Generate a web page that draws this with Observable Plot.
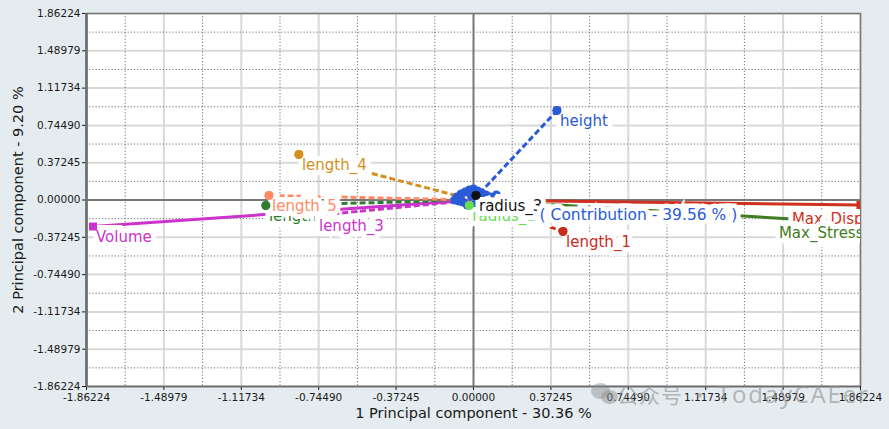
<!DOCTYPE html>
<html><head><meta charset="utf-8">
<script src="https://cdn.jsdelivr.net/npm/d3@7"></script>
<script src="https://cdn.jsdelivr.net/npm/@observablehq/plot@0.6"></script>
<style>
html,body{margin:0;padding:0;background:#e5ecef;}
#wrap{position:relative;width:889px;height:429px;overflow:hidden;}
.wm{position:absolute;color:#8f8f8f;opacity:.6;white-space:nowrap;}
#wm1{left:617px;top:379px;font:21px "Noto Sans CJK SC",sans-serif;letter-spacing:1px;}
#wm2{left:717px;top:377px;font:400 24px "Open Sans","Noto Sans",sans-serif;letter-spacing:1.8px;}
.ic{position:absolute;border-radius:50%;background:#8a8a8a;opacity:.45;}
</style></head><body><div id="wrap"><div id="chart"></div>
<div class="ic" style="left:591px;top:383px;width:19px;height:16px;"></div>
<div class="ic" style="left:601px;top:390px;width:17px;height:14px;"></div>
<div class="wm" id="wm1">公众号 ·</div><div class="wm" id="wm2">TodayCAEer</div></div>
<script>
// ---- data ----
const variables = ["height","length_4","length_2","length_5","Volume","length_3","length_1","Max_Disp","Max_Stress","radius_1","radius_3"];
const roles     = ["input","input","input","input","output","input","input","output","output","input","input"];
const pc1       = [0.402,-0.840,-0.999,-0.984,-1.831,-0.758,0.431,1.862,1.576,-0.020,0.012];
const pc2       = [0.894,0.454,-0.055,0.045,-0.265,-0.155,-0.315,-0.050,-0.195,-0.055,0.045];
const clusterPc1 = [-0.08,-0.06,-0.04,-0.02,0.00,0.02,0.04,0.06,0.08,0.10,-0.05,-0.03,0.01,0.03,0.05,-0.07,0.07,-0.01,-0.09,0.11];
const clusterPc2 = [0.03,0.06,0.08,0.10,0.11,0.09,0.07,0.05,0.03,0.02,-0.02,-0.05,-0.04,0.00,0.00,-0.01,0.01,0.04,0.00,0.05];
const axisTicks = [-1.86224,-1.48979,-1.11734,-0.74490,-0.37245,0,0.37245,0.74490,1.11734,1.48979,1.86224];
const xTitle = "1 Principal component - 30.36 %";
const yTitle = "2 Principal component - 9.20 %";
const noteText = ["( Contribution - 39.56 % )"];
const notePc1 = [0.318];
const notePc2 = [-0.150];
const palette = ["#2a5bd7","#d4901e","#2e7d32","#ff8a65","#cc33cc","#cc33cc","#cc2a1e","#d03020","#3f7d22","#66dd55","#111111"];

// ---- build ----
const vars = variables.map((name,i)=>({name, role:roles[i], x:pc1[i], y:pc2[i]}));
const cluster = clusterPc1.map((x,i)=>({x, y:clusterPc2[i]}));
const notes = noteText.map((t,i)=>({t, x:notePc1[i], y:notePc2[i]}));
const minor = d3.pairs(axisTicks).map(([a,b])=>(a+b)/2);
const major = axisTicks.filter(v=>v!==0);
const fmt = v => v.toFixed(5);
const font = "DejaVu Sans";
const inputs = vars.filter(d=>d.role==="input");
const outputs = vars.filter(d=>d.role==="output");
// labels of points near the right edge are pushed inside the frame
const labelNormal = vars.filter(d=>d.x < 1.2);
const labelEdge = vars.filter(d=>d.x >= 1.2);
// markers stay visible above labels, except the one the reference shows hidden by its own label
const topMarkers = inputs.filter(d=>d.name!=="length_3");
const halo = {stroke:"white", strokeWidth:10, strokeLinejoin:"miter", paintOrder:"stroke"};

const chart = Plot.plot({
  width: 889, height: 429,
  marginLeft: 86, marginRight: 29, marginTop: 13, marginBottom: 43,
  style: {background:"transparent", fontFamily: font, color:"#1a1a1a", fontSize:"10.5px"},
  x: {domain:[-1.86224,1.86224]},
  y: {domain:[-1.86224,1.86224]},
  color: {domain: variables, range: palette},
  marks: [
    Plot.frame({fill:"white", stroke:null}),
    Plot.ruleX(major, {stroke:"#d9d9d9", strokeWidth:2}),
    Plot.ruleY(major, {stroke:"#d9d9d9", strokeWidth:2}),
    Plot.ruleX(minor, {stroke:"#6f6f6f", strokeWidth:1, strokeDasharray:"1.2,2"}),
    Plot.ruleY(minor, {stroke:"#6f6f6f", strokeWidth:1, strokeDasharray:"1.2,2"}),
    Plot.ruleX([0], {stroke:"#777", strokeWidth:2}),
    Plot.ruleY([0], {stroke:"#777", strokeWidth:2}),
    Plot.frame({stroke:"#777", strokeWidth:1.5}),
    Plot.axisY({ticks: axisTicks, tickFormat: fmt, tickSize:4, tickPadding:2, label:null, fontSize:10.5}),
    Plot.axisX({ticks: axisTicks, tickFormat: fmt, tickSize:4, tickPadding:3, label:null, fontSize:10.5}),
    Plot.ruleX([-1.86224], {stroke:"#6a6a6a", strokeWidth:2.5}),
    Plot.ruleY([-1.86224], {stroke:"#6a6a6a", strokeWidth:1.5}),
    Plot.link(outputs, {x1:0, y1:0, x2:"x", y2:"y", stroke:"name", strokeWidth:3, clip:true}),
    Plot.link(inputs, {x1:0, y1:0, x2:"x", y2:"y", stroke:"name", strokeWidth:3, strokeDasharray:"6,3"}),
    Plot.dot(cluster, {x:"x", y:"y", r:4.5, fill:"#2a5bd7"}),
    Plot.dot(inputs, {x:"x", y:"y", r:4.5, fill:"name"}),
    Plot.text(labelNormal, {x:"x", y:"y", text:"name", fill:"name", textAnchor:"start", lineAnchor:"top", dx:3, dy:5, fontSize:15, ...halo}),
    Plot.text(labelEdge, {y:"y", frameAnchor:"right", text:"name", fill:"name", textAnchor:"end", lineAnchor:"top", dx:3, dy:8, fontSize:15, ...halo, clip:true}),
    Plot.text(notes, {x:"x", y:"y", text:"t", fill:"#2a5bd7", textAnchor:"start", fontSize:15.5, ...halo, strokeWidth:9}),
    Plot.dot(topMarkers, {x:"x", y:"y", r:4.5, fill:"name"}),
    Plot.dot(outputs.filter(d=>d.name==="Volume"), {x:"x", y:"y", r:4.5, fill:"name", symbol:"square"}),
    Plot.dot(outputs.filter(d=>d.name==="Max_Disp"), {x:"x", y:"y", r:4.5, fill:"name", symbol:"square", clip:true}),
    Plot.text([xTitle], {frameAnchor:"bottom", dy:31, fontSize:14.5, fill:"#1a1a1a"}),
    Plot.text([yTitle], {frameAnchor:"left", textAnchor:"middle", dx:-68, rotate:-90, fontSize:14.5, fill:"#1a1a1a"})
  ]
});
document.getElementById("chart").appendChild(chart);
</script></body></html>
